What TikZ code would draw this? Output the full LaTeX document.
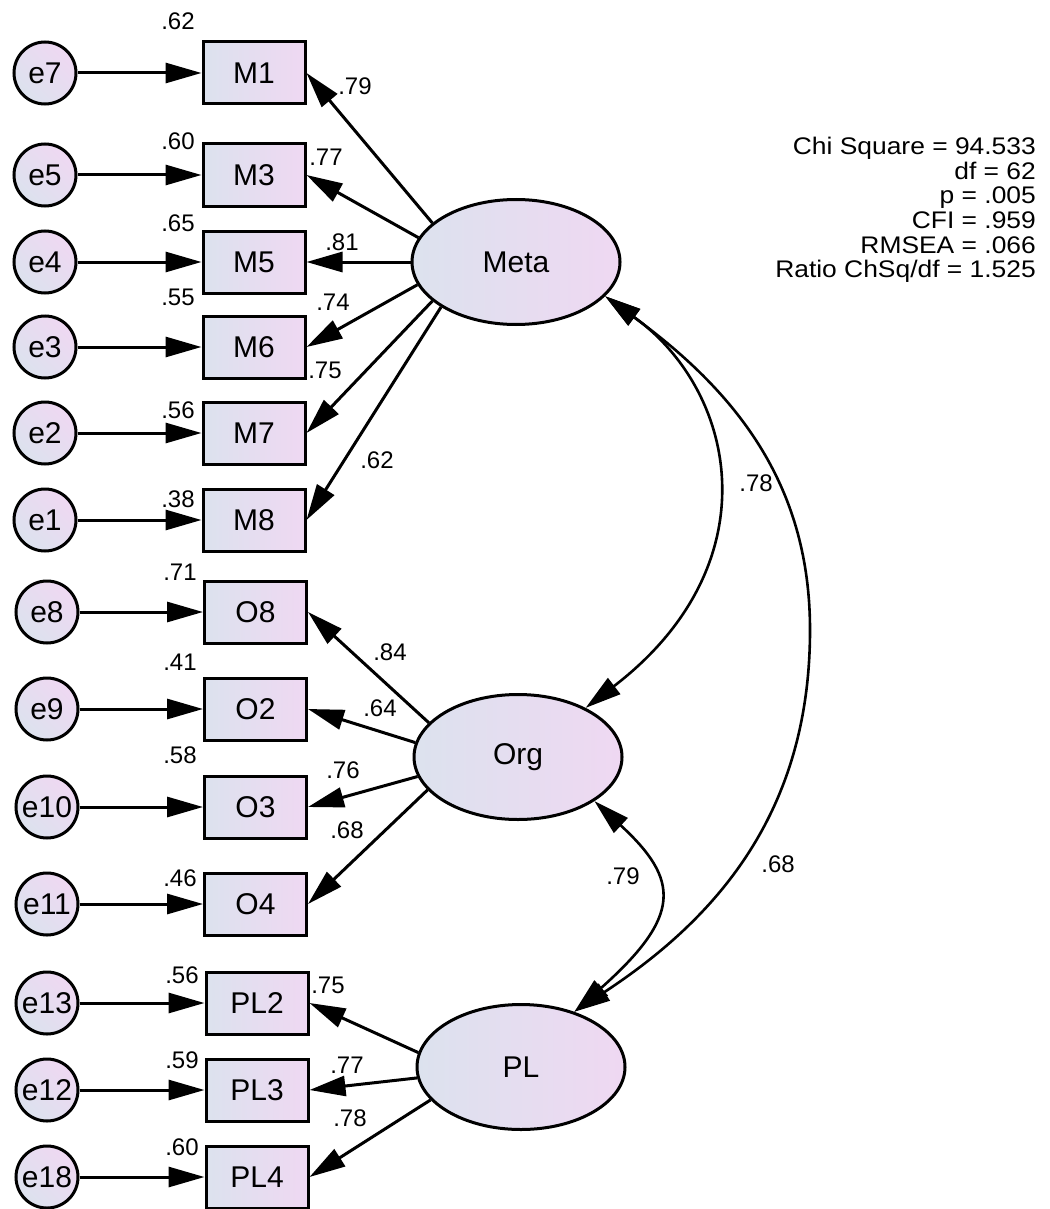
\documentclass[tikz,border=0pt]{standalone}
\usepackage{fontspec}
\setmainfont{Liberation Sans}
\newfontfamily\fitfont{Liberation Sans}[FakeStretch=1.1]
\usetikzlibrary{shapes.geometric,arrows.meta}
\definecolor{gA}{HTML}{DCE2EE}
\definecolor{gB}{HTML}{EFD8F2}
\begin{document}
\begin{tikzpicture}[x=1pt,y=-1pt,
 evar/.style={circle, draw, line width=3pt, minimum size=62pt, inner sep=0pt, left color=gA, right color=gB, shading angle=135, font=\fontsize{30}{30}\selectfont},
 obs/.style={rectangle, draw, line width=3pt, minimum width=102pt, minimum height=62pt, inner sep=0pt, left color=gA, right color=gB, font=\fontsize{30}{30}\selectfont},
 lat/.style={ellipse, draw, line width=3pt, minimum width=208pt, minimum height=125pt, inner sep=0pt, left color=gA, right color=gB, font=\fontsize{30}{30}\selectfont},
 arr/.style={line width=3pt, -{Triangle[length=36pt,width=20pt]}},
 cov/.style={line width=2.6pt, {Triangle[length=36pt,width=20pt]}-{Triangle[length=36pt,width=20pt]}},
 lab/.style={font=\fontsize{24}{24}\selectfont, inner sep=0pt},
 fitt/.style={font=\fitfont\fontsize{24}{24}\selectfont, inner sep=0pt, anchor=base east},
]
\fill[white] (0,0) rectangle (1049,1209);
\useasboundingbox (0,0) rectangle (1049,1209);

% observed variables
\node[obs] (M1) at (254,73) {M1};
\node[obs] (M3) at (254,175) {M3};
\node[obs] (M5) at (254,262) {M5};
\node[obs] (M6) at (254,347) {M6};
\node[obs] (M7) at (254,433) {M7};
\node[obs] (M8) at (254,520) {M8};
\node[obs] (O8) at (255.5,612) {O8};
\node[obs] (O2) at (255.5,709) {O2};
\node[obs] (O3) at (255.5,807) {O3};
\node[obs] (O4) at (255.5,904) {O4};
\node[obs] (PL2) at (257,1003) {PL2};
\node[obs] (PL3) at (257,1090) {PL3};
\node[obs] (PL4) at (257,1177) {PL4};

% errors
\node[evar] (e7) at (45,73) {e7};
\node[evar] (e5) at (45,175) {e5};
\node[evar] (e4) at (45,262) {e4};
\node[evar] (e3) at (45,347) {e3};
\node[evar] (e2) at (45,433) {e2};
\node[evar] (e1) at (45,520) {e1};
\node[evar] (e8) at (47,612) {e8};
\node[evar] (e9) at (47,709) {e9};
\node[evar] (e10) at (47,807) {e10};
\node[evar] (e11) at (47,904) {e11};
\node[evar] (e13) at (47,1003) {e13};
\node[evar] (e12) at (47,1090) {e12};
\node[evar] (e18) at (47,1177) {e18};

% latent variables
\node[lat] (meta) at (516,262) {Meta};
\node[lat] (org) at (518,757) {Org};
\node[lat] (pl) at (521,1067) {PL};

% error arrows
\foreach \e/\m in {e7/M1,e5/M3,e4/M5,e3/M6,e2/M7,e1/M8,e8/O8,e9/O2,e10/O3,e11/O4,e13/PL2,e12/PL3,e18/PL4}
  \draw[arr] (\e.east) -- (\m.west);

% loadings
\draw[arr] (meta.155) -- (M1.east);
\draw[arr] (meta.166) -- (M3.east);
\draw[arr] (meta.180) -- (M5.east);
\draw[arr] (meta.193) -- (M6.east);
\draw[arr] (meta.205) -- (M7.east);
\draw[arr] (meta.211.6) -- (M8.east);
\draw[arr] (org.159) -- (O8.east);
\draw[arr] (org.172) -- (O2.east);
\draw[arr] (org.191) -- (O3.east);
\draw[arr] (org.200) -- (O4.east);
\draw[arr] (pl.172) -- (PL2.east);
\draw[arr] (pl.186) -- (PL3.east);
\draw[arr] (pl.200) -- (PL4.east);

% covariances
\draw[cov] (meta.-21.5) .. controls (738,392) and (772,565) .. (org.36);
\draw[cov] (meta.-21.5) .. controls (742,396) and (810,490) .. (810,630)
                        .. controls (810,810) and (719,917) .. (pl.46);
\draw[cov] (org.-30) .. controls (680,880) and (682,916) .. (pl.46);

% labels
\node[lab] (l1) at (178,21) {.62};
\node[lab] (l2) at (355,86) {.79};
\node[lab] (l3) at (178,141) {.60};
\node[lab] (l4) at (326,157) {.77};
\node[lab] (l5) at (178,223) {.65};
\node[lab] (l6) at (342,242) {.81};
\node[lab] (l7) at (178,297) {.55};
\node[lab] (l8) at (333,302) {.74};
\node[lab] (l9) at (325,370) {.75};
\node[lab] (l10) at (178,410) {.56};
\node[lab] (l11) at (377,460) {.62};
\node[lab] (l12) at (178,499) {.38};
\node[lab] (l13) at (180,572) {.71};
\node[lab] (l14) at (390,652) {.84};
\node[lab] (l15) at (180,662) {.41};
\node[lab] (l16) at (380,708) {.64};
\node[lab] (l17) at (180,755) {.58};
\node[lab] (l18) at (343,770) {.76};
\node[lab] (l19) at (347,830) {.68};
\node[lab] (l20) at (180,878) {.46};
\node[lab] (l21) at (182,975) {.56};
\node[lab] (l22) at (328,985) {.75};
\node[lab] (l23) at (182,1060) {.59};
\node[lab] (l24) at (347,1065) {.77};
\node[lab] (l25) at (350,1118) {.78};
\node[lab] (l26) at (182,1147) {.60};
\node[lab] (c1) at (756,483) {.78};
\node[lab] (c2) at (623,876) {.79};
\node[lab] (c3) at (778,864) {.68};

% fit statistics
\node[fitt] (f1) at (1036,155) {Chi Square = 94.533};
\node[fitt] (f2) at (1036,179.5) {df = 62};
\node[fitt] (f3) at (1036,204) {p = .005};
\node[fitt] (f4) at (1036,228.5) {CFI = .959};
\node[fitt] (f5) at (1036,253) {RMSEA = .066};
\node[fitt] (f6) at (1036,277.5) {Ratio ChSq/df = 1.525};
\end{tikzpicture}
\end{document}
